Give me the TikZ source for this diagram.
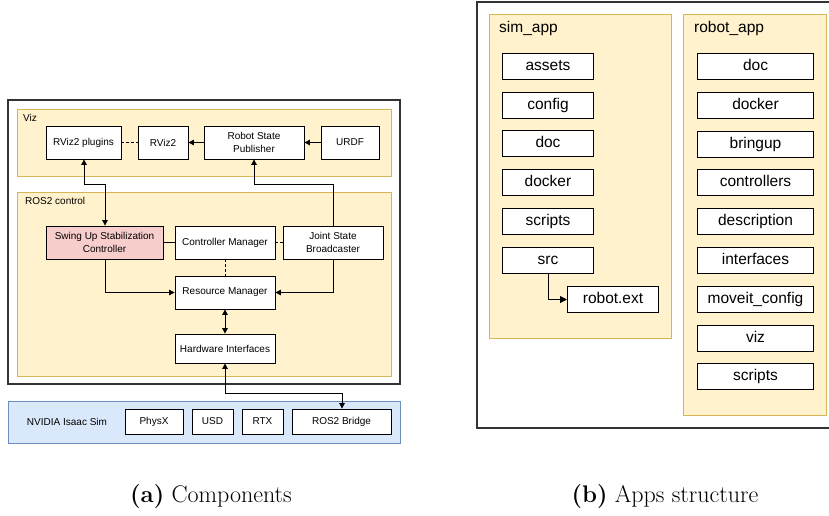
\documentclass[tikz,border=0pt]{standalone}
\usepackage{fontspec}
\setsansfont{Liberation Sans}
\usetikzlibrary{arrows.meta}

\definecolor{panelfill}{HTML}{FFF2CC}
\definecolor{paneldraw}{HTML}{D6B656}
\definecolor{simfill}{HTML}{DAE8FC}
\definecolor{simdraw}{HTML}{6C8EBF}
\definecolor{ctrlfill}{HTML}{F8CECC}
\definecolor{framedraw}{HTML}{333333}

\begin{document}
\begin{tikzpicture}[x=1pt, y=-1pt,
	every node/.style={font=\sffamily\fontsize{10}{11.5}\selectfont, inner sep=0pt},
	frame/.style={draw=framedraw, line width=1.3pt},
	panel/.style={draw=paneldraw, fill=panelfill, line width=0.9pt},
	comp/.style={draw=black, fill=white, line width=0.8pt, align=center},
	item/.style={draw=black, fill=white, line width=1pt, font=\sffamily\fontsize{15.5}{17}\selectfont, anchor=north west, minimum width=91pt, minimum height=26pt, text height=11.5pt, text depth=3.5pt},
	conn/.style={line width=0.8pt, -{Triangle[length=5.5pt, width=5.5pt]}},
	biconn/.style={line width=0.8pt, {Triangle[length=5.5pt, width=5.5pt]}-{Triangle[length=5.5pt, width=5.5pt]}},
	weak/.style={line width=0.8pt, dashed, dash pattern=on 3pt off 2pt}]
	\useasboundingbox (0,0) rectangle (829,516);

	% (a) components
	\draw[frame] (8,100) rectangle (400,384);
	\draw[panel] (17,109) rectangle (391,176);
	\draw[panel] (17,192) rectangle (391,376);
	\node[anchor=west] (vizlbl) at (23,118) {Viz};
	\node[anchor=west] (ctrllbl) at (25,201) {ROS2 control};
	\node[comp, minimum width=75pt, minimum height=33pt] (plugins) at (83.5,142.5) {RViz2 plugins};
	\node[comp, minimum width=50pt, minimum height=33pt] (rviz) at (163,142.5) {RViz2};
	\node[comp, minimum width=100pt, minimum height=33pt] (rsp) at (254,142.5) {Robot State\\[1pt]Publisher};
	\node[comp, minimum width=58pt, minimum height=33pt] (urdf) at (350,142.5) {URDF};
	\node[comp, fill=ctrlfill, minimum width=117pt, minimum height=33pt] (swing) at (104.5,242.5) {Swing Up Stabilization\\[1pt]Controller};
	\node[comp, minimum width=100pt, minimum height=33pt] (cm) at (225,242.5) {Controller Manager};
	\node[comp, minimum width=100pt, minimum height=33pt] (jsb) at (333,242.5) {Joint State\\[1pt]Broadcaster};
	\node[comp, minimum width=100pt, minimum height=33pt] (rm) at (225,292.5) {Resource Manager};
	\node[comp, minimum width=100pt, minimum height=29pt] (hw) at (225,348.5) {Hardware Interfaces};
	\draw[draw=simdraw, fill=simfill, line width=1pt] (8,401) rectangle (400,443);
	\node (isaac) at (67,422) {NVIDIA Isaac Sim};
	\node[comp, minimum width=58pt, minimum height=25pt] (physx) at (154,421.5) {PhysX};
	\node[comp, minimum width=41pt, minimum height=25pt] (usd) at (212.5,421.5) {USD};
	\node[comp, minimum width=41pt, minimum height=25pt] (rtx) at (262.5,421.5) {RTX};
	\node[comp, minimum width=99pt, minimum height=25pt] (bridge) at (341.5,421.5) {ROS2 Bridge};
	\coordinate (upA) at (84,184);
	\coordinate (upB) at (105,184);
	\coordinate (upC) at (254,184);
	\coordinate (upD) at (333,184);
	\coordinate (lowA) at (225,393);
	\coordinate (lowB) at (342,393);

	\draw[weak] (plugins) -- (rviz);
	\draw[conn] (rsp) -- (rviz);
	\draw[conn] (urdf) -- (rsp);
	\draw[biconn] (plugins.south -| upA) -- (upA) -- (upB) -- (swing.north -| upB);
	\draw[conn] (jsb.north -| upD) -- (upD) -- (upC) -- (rsp.south -| upC);
	\draw[line width=0.8pt] (swing) -- (cm);
	\draw[weak] (cm) -- (jsb);
	\draw[weak] (cm) -- (rm);
	\draw[conn] (swing.south -| upB) |- (rm.west);
	\draw[conn] (jsb.south -| upD) |- (rm.east);
	\draw[biconn] (rm) -- (hw);
	\draw[biconn] (hw.south) -- (lowA) -- (lowB) -- (bridge.north -| lowB);

	% (b) apps structure
	\draw[frame] (477,2) rectangle (835,428);
	\draw[panel] (489,14) rectangle (671,338);
	\draw[panel] (683,14) rectangle (826,415);
	\node[anchor=west, font=\sffamily\fontsize{15.5}{17}\selectfont] (simlbl) at (499,28) {sim\_app};
	\node[anchor=west, font=\sffamily\fontsize{15.5}{17}\selectfont] (robotlbl) at (694,28) {robot\_app};
	\foreach \name/\txt [count=\i from 0] in {assets/assets, config/config, sdoc/doc, sdocker/docker, sscripts/scripts, src/src}
		\node[item] (\name) at (502,{53+38.7*\i}) {\txt};
	\node[item] (ext) at (567,286) {robot.ext};
	\foreach \name/\txt [count=\i from 0] in {rdoc/doc, rdocker/docker, bringup/bringup, controllers/controllers, description/description, interfaces/interfaces, moveit/moveit\_config, viz/viz, rscripts/scripts}
		\node[item, minimum width=116pt] (\name) at (697,{53+38.8*\i}) {\txt};
	\draw[conn, line width=1pt, -{Triangle[length=7pt, width=7pt]}] (src.south) |- (ext.west);

	% captions
	\node[font=\fontsize{24}{28}\selectfont] (capa) at (211,497) {\textbf{(a)} Components};
	\node[font=\fontsize{24}{28}\selectfont] (capb) at (665,497) {\textbf{(b)} Apps structure};
\end{tikzpicture}
\end{document}
